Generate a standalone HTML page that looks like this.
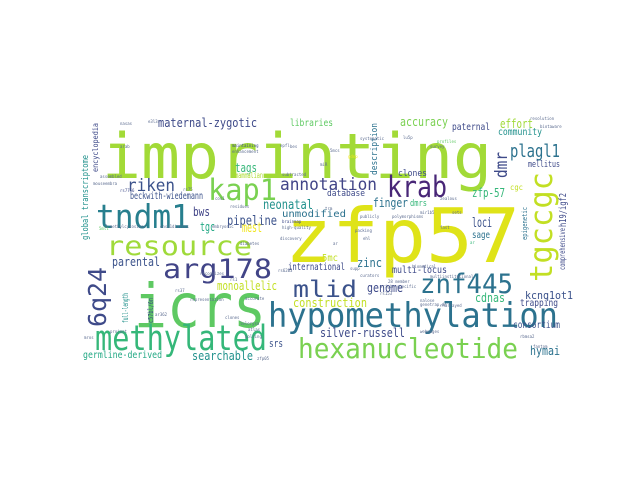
<!DOCTYPE html>
<html><head><meta charset="utf-8"><style>
html,body{margin:0;padding:0;background:#fff;}
svg{display:block;}
text{font-family:"DejaVu Sans Mono","Liberation Mono",monospace;}
</style></head><body>
<svg width="640" height="480" viewBox="0 0 640 480" xmlns="http://www.w3.org/2000/svg">
<g>
<text x="102" y="178" font-size="62" fill="#a2da37" textLength="390" lengthAdjust="spacingAndGlyphs">imprinting</text>
<text x="285" y="262" font-size="75" fill="#dfe318" textLength="235" lengthAdjust="spacingAndGlyphs">zfp57</text>
<text x="134" y="327" font-size="61" fill="#5ec962" textLength="132" lengthAdjust="spacingAndGlyphs">icrs</text>
<text x="268" y="327" font-size="34" fill="#2c728e" textLength="290" lengthAdjust="spacingAndGlyphs">hypomethylation</text>
<text x="95" y="350" font-size="35" fill="#35b779" textLength="172" lengthAdjust="spacingAndGlyphs">methylated</text>
<text x="298" y="358" font-size="28" fill="#7ad151" textLength="220" lengthAdjust="spacingAndGlyphs">hexanucleotide</text>
<text x="106" y="255" font-size="27" fill="#9fda3a" textLength="146" lengthAdjust="spacingAndGlyphs">resource</text>
<text x="163" y="278" font-size="27" fill="#414487" textLength="109" lengthAdjust="spacingAndGlyphs">arg178</text>
<text x="96" y="228" font-size="33" fill="#277f8e" textLength="94" lengthAdjust="spacingAndGlyphs">tndm1</text>
<text x="208" y="200" font-size="29" fill="#7ad151" textLength="69" lengthAdjust="spacingAndGlyphs">kap1</text>
<text x="387" y="197" font-size="29" fill="#482677" textLength="60" lengthAdjust="spacingAndGlyphs">krab</text>
<text x="420" y="293" font-size="27" fill="#2c728e" textLength="93" lengthAdjust="spacingAndGlyphs">znf445</text>
<text x="293" y="297" font-size="23" fill="#3b528b" textLength="64" lengthAdjust="spacingAndGlyphs">mlid</text>
<text transform="translate(552,282) rotate(-90)" font-size="31" fill="#c2df23" textLength="110" lengthAdjust="spacingAndGlyphs">tgccgc</text>
<text transform="translate(106,327) rotate(-90)" font-size="25" fill="#3e4a89" textLength="60" lengthAdjust="spacingAndGlyphs">6q24</text>
<text x="510" y="157" font-size="18" fill="#2c728e" textLength="50" lengthAdjust="spacingAndGlyphs">plagl1</text>
<text transform="translate(507,178) rotate(-90)" font-size="17" fill="#3e4a89" textLength="26" lengthAdjust="spacingAndGlyphs">dmr</text>
<text x="127" y="191" font-size="17" fill="#3b528b" textLength="48" lengthAdjust="spacingAndGlyphs">riken</text>
<text x="280" y="190" font-size="17" fill="#414487" textLength="97" lengthAdjust="spacingAndGlyphs">annotation</text>
<text x="158" y="127" font-size="12" fill="#3e4a89" textLength="99" lengthAdjust="spacingAndGlyphs">maternal-zygotic</text>
<text x="290" y="126" font-size="10" fill="#5ec962" textLength="43" lengthAdjust="spacingAndGlyphs">libraries</text>
<text x="235" y="172" font-size="12" fill="#35b779" textLength="22" lengthAdjust="spacingAndGlyphs">tags</text>
<text x="235" y="178" font-size="8" fill="#addc30" textLength="28" lengthAdjust="spacingAndGlyphs">mammalian</text>
<text x="130" y="199" font-size="10" fill="#3b528b" textLength="73" lengthAdjust="spacingAndGlyphs">beckwith-wiedemann</text>
<text x="193" y="216" font-size="12" fill="#414487" textLength="17" lengthAdjust="spacingAndGlyphs">bws</text>
<text x="263" y="209" font-size="13" fill="#21918c" textLength="50" lengthAdjust="spacingAndGlyphs">neonatal</text>
<text x="282" y="217" font-size="10" fill="#2c728e" textLength="64" lengthAdjust="spacingAndGlyphs">unmodified</text>
<text x="227" y="225" font-size="13" fill="#3b528b" textLength="50" lengthAdjust="spacingAndGlyphs">pipeline</text>
<text x="200" y="231" font-size="12" fill="#22a884" textLength="15" lengthAdjust="spacingAndGlyphs">tgc</text>
<text x="242" y="232" font-size="13" fill="#f0e51c" textLength="20" lengthAdjust="spacingAndGlyphs">mest</text>
<text x="112" y="266" font-size="12" fill="#3b528b" textLength="48" lengthAdjust="spacingAndGlyphs">parental</text>
<text x="288" y="270" font-size="10" fill="#3e4a89" textLength="57" lengthAdjust="spacingAndGlyphs">international</text>
<text x="217" y="290" font-size="12" fill="#c2df23" textLength="60" lengthAdjust="spacingAndGlyphs">monoallelic</text>
<text x="293" y="307" font-size="12" fill="#c2df23" textLength="74" lengthAdjust="spacingAndGlyphs">construction</text>
<text x="269" y="347" font-size="11" fill="#3b528b" textLength="14" lengthAdjust="spacingAndGlyphs">srs</text>
<text x="83" y="358" font-size="10" fill="#22a884" textLength="79" lengthAdjust="spacingAndGlyphs">germline-derived</text>
<text x="192" y="360" font-size="12" fill="#21918c" textLength="61" lengthAdjust="spacingAndGlyphs">searchable</text>
<text x="322" y="261" font-size="10" fill="#c2df23" textLength="16" lengthAdjust="spacingAndGlyphs">5mc</text>
<text x="357" y="267" font-size="12" fill="#2c728e" textLength="25" lengthAdjust="spacingAndGlyphs">zinc</text>
<text x="392" y="273" font-size="10" fill="#3e4a89" textLength="55" lengthAdjust="spacingAndGlyphs">multi-locus</text>
<text x="367" y="292" font-size="12" fill="#3e4a89" textLength="36" lengthAdjust="spacingAndGlyphs">genome</text>
<text x="475" y="302" font-size="12" fill="#35b779" textLength="30" lengthAdjust="spacingAndGlyphs">cdnas</text>
<text x="525" y="299" font-size="11" fill="#3b528b" textLength="48" lengthAdjust="spacingAndGlyphs">kcnq1ot1</text>
<text x="520" y="306" font-size="10" fill="#3e4a89" textLength="38" lengthAdjust="spacingAndGlyphs">trapping</text>
<text x="320" y="337" font-size="12" fill="#3e4a89" textLength="85" lengthAdjust="spacingAndGlyphs">silver-russell</text>
<text x="513" y="328" font-size="10" fill="#3b528b" textLength="47" lengthAdjust="spacingAndGlyphs">consortium</text>
<text x="530" y="355" font-size="12" fill="#2c728e" textLength="30" lengthAdjust="spacingAndGlyphs">hymai</text>
<text x="400" y="126" font-size="12" fill="#7ad151" textLength="48" lengthAdjust="spacingAndGlyphs">accuracy</text>
<text x="500" y="128" font-size="12" fill="#a0da39" textLength="33" lengthAdjust="spacingAndGlyphs">effort</text>
<text x="452" y="130" font-size="10" fill="#3e4a89" textLength="38" lengthAdjust="spacingAndGlyphs">paternal</text>
<text x="498" y="135" font-size="10" fill="#21918c" textLength="44" lengthAdjust="spacingAndGlyphs">community</text>
<text x="528" y="167" font-size="9" fill="#3e4a89" textLength="32" lengthAdjust="spacingAndGlyphs">mellitus</text>
<text x="398" y="176" font-size="9" fill="#3e4a89" textLength="29" lengthAdjust="spacingAndGlyphs">clones</text>
<text x="327" y="196" font-size="9" fill="#3e4a89" textLength="38" lengthAdjust="spacingAndGlyphs">database</text>
<text x="472" y="197" font-size="12" fill="#35b779" textLength="33" lengthAdjust="spacingAndGlyphs">zfp-57</text>
<text x="510" y="190" font-size="8" fill="#c2df23" textLength="13" lengthAdjust="spacingAndGlyphs">cgc</text>
<text x="373" y="207" font-size="12" fill="#2c728e" textLength="35" lengthAdjust="spacingAndGlyphs">finger</text>
<text x="410" y="206" font-size="9" fill="#35b779" textLength="17" lengthAdjust="spacingAndGlyphs">dmrs</text>
<text x="472" y="227" font-size="13" fill="#3b528b" textLength="20" lengthAdjust="spacingAndGlyphs">loci</text>
<text x="472" y="238" font-size="10" fill="#2c728e" textLength="18" lengthAdjust="spacingAndGlyphs">sage</text>
<text transform="translate(98,172) rotate(-90)" font-size="8" fill="#3e4a89" textLength="49" lengthAdjust="spacingAndGlyphs">encyclopedia</text>
<text transform="translate(88,240) rotate(-90)" font-size="9" fill="#21918c" textLength="85" lengthAdjust="spacingAndGlyphs">global transcriptome</text>
<text transform="translate(128,323) rotate(-90)" font-size="8" fill="#21918c" textLength="30" lengthAdjust="spacingAndGlyphs">full-length</text>
<text transform="translate(153,323) rotate(-90)" font-size="7" fill="#3e4a89" textLength="25" lengthAdjust="spacingAndGlyphs">c57bl/6n</text>
<text transform="translate(377,175) rotate(-90)" font-size="9" fill="#2c728e" textLength="52" lengthAdjust="spacingAndGlyphs">description</text>
<text transform="translate(566,227) rotate(-90)" font-size="10" fill="#3e4a89" textLength="34" lengthAdjust="spacingAndGlyphs">h19/igf2</text>
<text transform="translate(565,270) rotate(-90)" font-size="8" fill="#3e4a89" textLength="42" lengthAdjust="spacingAndGlyphs">comprehensive</text>
<text transform="translate(527,240) rotate(-90)" font-size="7" fill="#2c728e" textLength="33" lengthAdjust="spacingAndGlyphs">epigenetic</text>
<g font-size="4" fill="#5b6b8f">
<text x="120" y="125">nasas</text><text x="148" y="123">e3l3r</text><text x="120" y="148">arab</text>
<text x="232" y="147" fill="#3e4a89">maintaining</text><text x="232" y="153">enhancement</text>
<text x="280" y="147">epfl</text><text x="290" y="148">bes</text><text x="282" y="176">subtracted</text>
<text x="100" y="178">assembled</text><text x="93" y="185">mouseembra</text><text x="120" y="192" fill="#3e4a89">rs7756</text>
<text x="183" y="191">rs75</text><text x="99" y="230" fill="#5ec962">5mlt</text>
<text x="282" y="223" fill="#3e4a89">brainmap</text><text x="282" y="229">high-quality</text>
<text x="105" y="228">5-methylcytosines</text><text x="160" y="228">ensi1diaries</text><text x="212" y="228">embryonic</text>
<text x="230" y="208">residues</text><text x="215" y="200">cos1</text>
<text x="360" y="140">systematic</text><text x="403" y="139">lu5p</text><text x="437" y="143" fill="#5ec962">profiles</text><text x="430" y="148">survey</text>
<text x="330" y="152">5mcs</text><text x="348" y="158" fill="#f0e51c">gdnp</text><text x="320" y="166">miR</text>
<text x="530" y="120">resolution</text><text x="540" y="128">biotaware</text>
<text x="325" y="210">trm</text><text x="420" y="214">mir1b5</text><text x="440" y="200">zealous</text>
<text x="360" y="218">publicly</text><text x="392" y="218">polymorphisms</text><text x="452" y="214">sets</text>
<text x="355" y="232">packing</text><text x="363" y="240">ehl</text><text x="333" y="245">ar</text>
<text x="440" y="229">fast</text><text x="470" y="244" fill="#35b779">ar</text>
<text x="350" y="270">supp</text><text x="360" y="277">curators</text><text x="388" y="283">28 member</text>
<text x="412" y="268">biomedical</text><text x="430" y="278">multiinstitutional</text>
<text x="380" y="288">origin-specific</text><text x="380" y="295">rs153</text><text x="420" y="302">nalose</text>
<text x="440" y="307">rnarrayed</text><text x="420" y="306">genetrap.de</text><text x="420" y="333">webpages</text>
<text x="520" y="338">rbmsa2</text><text x="533" y="348">fantom</text>
<text x="240" y="245">diabetes</text><text x="280" y="240">discovery</text><text x="278" y="272">rs6203</text>
<text x="200" y="275">recognizes</text><text x="230" y="281">rs1</text><text x="175" y="292">rs37</text>
<text x="190" y="301">representation</text><text x="155" y="316">ar362</text><text x="245" y="300">accurate</text>
<text x="240" y="325">lelerysa</text><text x="225" y="319">clones</text><text x="248" y="331">atlas</text><text x="245" y="338">polling</text>
<text x="110" y="333">project</text><text x="84" y="339">mros</text><text x="257" y="360">zfp05</text>
</g>
</g>
</svg>
</body></html>
